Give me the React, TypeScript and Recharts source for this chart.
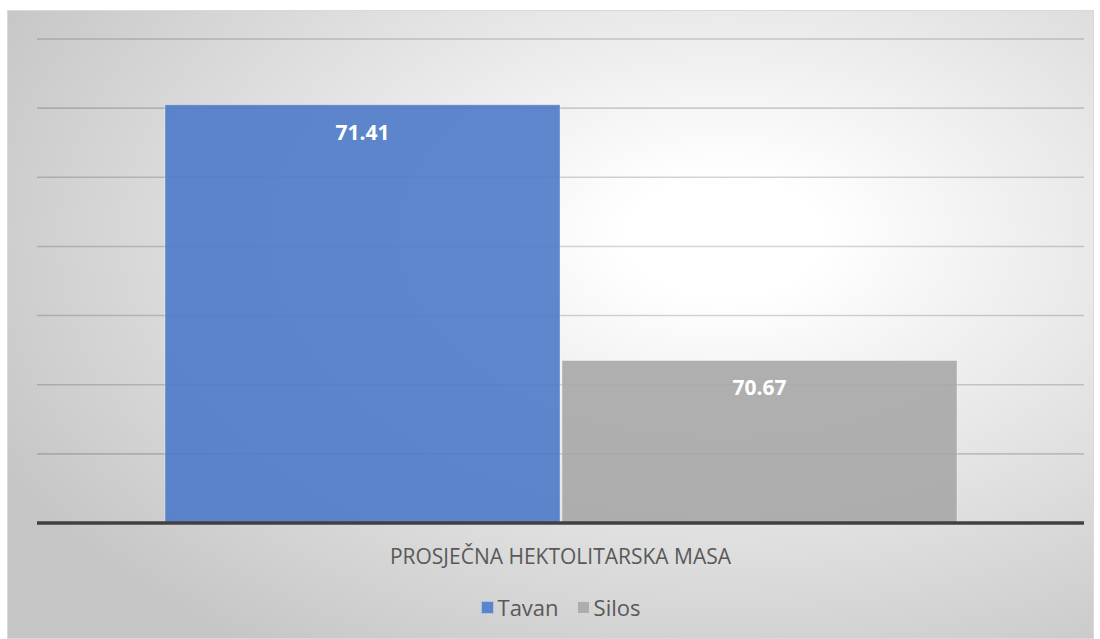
import { BarChart, Bar, XAxis, YAxis, CartesianGrid, Legend, LabelList } from 'recharts'

const categories = ['PROSJEČNA HEKTOLITARSKA MASA']
const tavan = [71.41]
const silos = [70.67]
const yTicks = [70.2, 70.4, 70.6, 70.8, 71.0, 71.2, 71.4, 71.6]

const data = categories.map((name, i) => ({ name, tavan: tavan[i], silos: silos[i] }))

const FONT = '"Open Sans", sans-serif'

const legendItems = [
  { label: 'Tavan', color: '#5B85CB' },
  { label: 'Silos', color: '#ADADAD' },
]

function renderLegend() {
  return (
    <div style={{ display: 'flex', justifyContent: 'center', gap: 18, paddingTop: 14, fontFamily: FONT, fontSize: 22, color: '#595959' }}>
      {legendItems.map((it) => (
        <div key={it.label} style={{ display: 'flex', alignItems: 'center', gap: 4 }}>
          <div style={{ width: 11, height: 11, background: it.color, border: '1px solid rgba(255,255,255,0.5)' }} />
          <span>{it.label}</span>
        </div>
      ))}
    </div>
  )
}

function AxisTick({ x, y, payload }: any) {
  return (
    <text x={x} y={y + 27} textAnchor="middle" dominantBaseline="middle" fill="#595959" fontSize={21} fontFamily={FONT}>
      {payload.value}
    </text>
  )
}

export default function App() {
  return (
    <div
      style={{
        position: 'absolute',
        left: 7,
        top: 10,
        width: 1087,
        height: 629,
        boxSizing: 'border-box',
        border: '1px solid #d9d9d9',
        background: 'radial-gradient(ellipse 75% 80% at 66% 36%, #ffffff 0%, #ffffff 12%, #c6c6c6 100%)',
      }}
    >
      <BarChart
        width={1085}
        height={627}
        data={data}
        margin={{ top: 28, right: 9, left: 29, bottom: 12 }}
        barCategoryGap={128}
        barGap={2}
      >
        <CartesianGrid horizontal vertical={false} stroke="#000000" strokeOpacity={0.17} strokeWidth={1.6} />
        <YAxis hide domain={[70.2, 71.6]} ticks={yTicks} type="number" />
        <XAxis
          dataKey="name"
          axisLine={{ stroke: '#404040', strokeWidth: 3.5 }}
          tickLine={false}
          tick={<AxisTick />}
          height={55}
        />
        <Legend verticalAlign="bottom" height={48} content={renderLegend} />
        <Bar dataKey="tavan" fill="#4E7AC9" fillOpacity={0.9} stroke="rgba(255,255,255,0.35)" strokeWidth={1} isAnimationActive={false}>
          <LabelList dataKey="tavan" position="insideTop" offset={20} fill="#ffffff" fontSize={21} fontWeight="bold" fontFamily={FONT} formatter={(v: any) => Number(v).toFixed(2)} />
        </Bar>
        <Bar dataKey="silos" fill="#A7A7A7" fillOpacity={0.9} stroke="rgba(255,255,255,0.35)" strokeWidth={1} isAnimationActive={false}>
          <LabelList dataKey="silos" position="insideTop" offset={20} fill="#ffffff" fontSize={21} fontWeight="bold" fontFamily={FONT} formatter={(v: any) => Number(v).toFixed(2)} />
        </Bar>
      </BarChart>
    </div>
  )
}
